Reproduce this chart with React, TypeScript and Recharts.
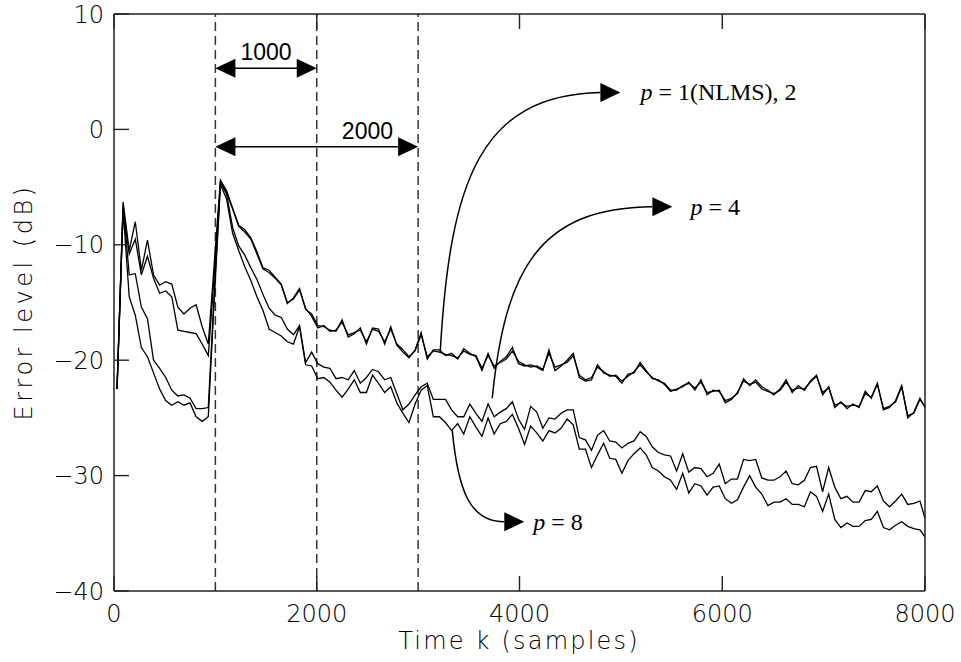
import React from 'react';
import { LineChart, Line, XAxis, YAxis, ReferenceLine } from 'recharts';

const W = 961;
const H = 662;

// sample positions (one point every 60 samples, last at 8000)
const timeK = Array.from({ length: 134 }, (_, i) => Math.min(30 + 60 * i, 8000));

// error level in dB
const errP1 = [
  -22.5, -6.3, -10.5, -8.0, -12.2, -9.6, -12.6, -13.5, -13.2, -13.4,
  -15.4, -16.0, -15.5, -15.2, -17.1, -18.6, -11.5, -4.4, -5.3, -6.8,
  -8.3, -8.7, -9.4, -10.6, -12.0, -12.2, -12.8, -13.4, -15.1, -14.6,
  -13.8, -15.6, -16.0, -17.0, -17.1, -17.4, -17.5, -16.5, -18.0, -17.7,
  -17.2, -18.6, -17.2, -17.3, -18.6, -17.1, -18.7, -19.3, -19.8, -19.1,
  -17.6, -19.9, -19.1, -19.1, -19.6, -19.4, -19.9, -19.0, -19.4, -19.7,
  -20.9, -19.4, -20.7, -20.1, -19.7, -18.9, -20.3, -20.5, -20.4, -20.6,
  -20.9, -19.1, -20.9, -20.5, -20.0, -19.4, -21.5, -21.8, -21.7, -20.4,
  -21.1, -21.3, -21.4, -22.0, -21.2, -21.1, -20.2, -20.9, -21.6, -21.7,
  -22.1, -22.7, -22.5, -22.3, -21.9, -22.6, -21.7, -23.0, -22.6, -22.7,
  -23.5, -23.3, -22.9, -21.6, -22.2, -21.7, -22.3, -22.6, -23.0, -22.5,
  -21.7, -22.8, -22.2, -22.6, -21.8, -21.3, -23.0, -22.3, -24.1, -23.6,
  -24.2, -23.8, -24.1, -22.7, -23.3, -22.0, -24.3, -24.1, -23.5, -22.2,
  -25.0, -24.5, -23.3, -24.1,
];

const errP2 = [
  -22.5, -6.8, -10.8, -9.5, -12.6, -11.0, -12.9, -14.2, -14.0, -14.5,
  -17.4, -17.5, -17.6, -17.7, -18.6, -19.6, -12.5, -4.6, -5.5, -6.9,
  -8.4, -8.9, -9.5, -10.8, -12.1, -12.4, -12.9, -13.5, -15.0, -14.7,
  -13.9, -15.5, -16.2, -17.2, -17.0, -17.5, -17.4, -16.7, -17.8, -17.6,
  -17.4, -18.4, -17.3, -17.5, -18.4, -17.3, -18.6, -19.1, -19.7, -19.2,
  -17.8, -19.7, -19.2, -19.3, -19.5, -19.6, -19.8, -19.2, -19.5, -19.6,
  -20.7, -19.6, -20.5, -20.2, -19.9, -19.2, -20.1, -20.4, -20.6, -20.5,
  -20.8, -19.4, -20.6, -20.4, -20.2, -19.6, -21.3, -21.7, -21.5, -20.6,
  -21.0, -21.4, -21.3, -21.8, -21.4, -21.0, -20.4, -21.0, -21.5, -21.8,
  -22.0, -22.6, -22.6, -22.2, -22.0, -22.4, -21.9, -22.8, -22.7, -22.6,
  -23.7, -23.4, -22.8, -21.8, -22.1, -21.9, -22.5, -22.7, -22.9, -22.6,
  -21.9, -22.6, -22.4, -22.5, -21.9, -21.4, -22.8, -22.4, -23.9, -23.7,
  -24.0, -23.9, -24.0, -22.9, -23.2, -22.1, -24.2, -24.0, -23.6, -22.3,
  -24.8, -24.6, -23.4, -24.0,
];

const errP4 = [
  -22.5, -6.5, -12.6, -12.5, -15.4, -16.4, -20.0, -20.7, -21.5, -22.6,
  -23.1, -23.0, -23.3, -24.2, -24.2, -24.1, -14.0, -4.6, -5.6, -8.5,
  -10.1, -10.9, -12.0, -13.0, -14.3, -15.5, -16.1, -16.3, -17.3, -17.8,
  -17.0, -20.2, -19.3, -20.3, -20.6, -20.7, -21.6, -21.5, -21.7, -20.9,
  -22.0, -21.5, -20.8, -21.0, -21.7, -21.5, -22.9, -24.3, -23.8, -23.0,
  -22.3, -22.0, -23.4, -23.4, -23.4, -24.3, -24.9, -24.9, -23.8, -24.6,
  -25.3, -23.8, -24.9, -24.5, -24.2, -23.6, -25.1, -26.0, -24.0, -24.5,
  -25.9, -25.0, -25.1, -24.6, -24.3, -24.3, -26.7, -26.9, -27.8, -26.5,
  -26.1, -27.0, -27.1, -27.6, -27.2, -27.0, -26.2, -26.6, -27.5, -28.0,
  -28.2, -28.3, -29.6, -28.1, -29.7, -29.3, -29.4, -30.1, -29.8, -29.0,
  -30.7, -30.3, -30.3, -28.6, -28.7, -28.6, -30.2, -30.4, -30.4, -30.1,
  -29.6, -30.7, -30.8, -30.4, -29.3, -29.2, -31.4, -29.3, -31.0, -32.0,
  -31.8, -32.3, -32.3, -31.3, -31.4, -30.9, -32.2, -32.7, -32.2, -31.6,
  -32.5, -32.4, -32.2, -33.7,
];

const errP8 = [
  -22.5, -7.0, -14.5, -16.1, -18.9, -19.7, -21.1, -22.5, -23.5, -23.9,
  -23.6, -23.9, -23.7, -24.9, -25.3, -24.9, -14.5, -4.8, -6.0, -9.0,
  -10.5, -11.9, -13.1, -14.5, -15.7, -17.3, -17.6, -17.9, -18.4, -18.6,
  -17.1, -20.4, -20.5, -21.6, -21.5, -21.9, -22.6, -23.2, -22.5, -21.7,
  -22.8, -22.8, -21.3, -22.0, -22.8, -22.3, -23.7, -24.6, -25.4, -23.8,
  -22.6, -22.2, -24.9, -24.9, -25.4, -26.1, -25.5, -26.4, -24.9, -25.8,
  -26.6, -25.0, -26.4, -25.5, -25.3, -24.7, -25.9, -27.3, -25.7, -26.3,
  -27.0, -26.1, -26.3, -25.9, -25.1, -25.6, -27.7, -27.7, -29.3, -28.2,
  -27.2, -28.5, -28.6, -29.8, -28.7, -28.1, -27.6, -28.2, -29.3, -29.6,
  -30.1, -30.4, -31.2, -29.8, -31.5, -30.7, -30.9, -31.7, -31.0, -30.9,
  -32.0, -32.4, -32.1, -31.0, -30.0, -31.0, -31.6, -32.6, -32.3, -32.3,
  -32.0, -32.5, -32.5, -32.7, -31.4, -31.8, -33.1, -31.6, -33.8, -34.5,
  -34.1, -34.4, -34.4, -33.9, -33.8, -33.1, -34.5, -34.7, -34.3, -34.0,
  -34.4, -34.6, -34.7, -35.3,
];

const xTicks = [0, 2000, 4000, 6000, 8000];
const yTicks = [10, 0, -10, -20, -30, -40];
const markerK = [1000, 2000, 3000];

const data = timeK.map((k, i) => ({
  k,
  p1: errP1[i],
  p2: errP2[i],
  p4: errP4[i],
  p8: errP8[i],
}));

const AXIS = '#222';
const TICK = 15;
const tickFont = { fontFamily: 'DejaVu Sans', fontSize: 24, fontWeight: 200, fill: '#000' };
const fmt = (v: number) => (v < 0 ? `\u2212${Math.abs(v)}` : `${v}`);

const LeftTick = ({ x, y, payload }: any) => (
  <g>
    <line x1={x} y1={y} x2={x + TICK} y2={y} stroke={AXIS} strokeWidth={1.4} />
    <text x={x - 10} y={y} dy="0.36em" textAnchor="end" {...tickFont}>
      {fmt(payload.value)}
    </text>
  </g>
);
const RightTick = ({ x, y }: any) => (
  <line x1={x} y1={y} x2={x - TICK} y2={y} stroke={AXIS} strokeWidth={1.4} />
);
const BottomTick = ({ x, y, payload }: any) => (
  <g>
    <line x1={x} y1={y} x2={x} y2={y - TICK} stroke={AXIS} strokeWidth={1.4} />
    <text x={x} y={y + 31} textAnchor="middle" {...tickFont}>
      {fmt(payload.value)}
    </text>
  </g>
);
const TopTick = ({ x, y }: any) => (
  <line x1={x} y1={y} x2={x} y2={y + TICK} stroke={AXIS} strokeWidth={1.4} />
);

const Head = ({ x, y, dir }: { x: number; y: number; dir: 1 | -1 }) => (
  <polygon points={`${x},${y} ${x - dir * 20},${y - 9.5} ${x - dir * 20},${y + 9.5}`} fill="#000" />
);

// horizontal double-headed arrow with a label above it
const SpanArrow = (props: any) => {
  const { x1, y1, x2, text, at } = props;
  const tx = x1 + (x2 - x1) * at;
  return (
    <g>
      <line x1={x1 + 18} y1={y1} x2={x2 - 18} y2={y1} stroke="#000" strokeWidth={1.5} />
      <Head x={x1} y={y1} dir={-1} />
      <Head x={x2} y={y1} dir={1} />
      <text x={tx} y={y1 - 8} textAnchor="middle" fontFamily="Liberation Sans" fontSize={23} fill="#000">
        {text}
      </text>
    </g>
  );
};

// curved pointer from a curve to its label
const CurveArrow = (props: any) => {
  const { x1, y1, x2, y2, c, label, gap } = props;
  const dx = x2 - x1;
  const dy = y2 - y1;
  const d = `M${x1},${y1} C${x1 + c[0] * dx},${y1 + c[1] * dy} ${x1 + c[2] * dx},${y1 + c[3] * dy} ${x2},${y2}`;
  return (
    <g>
      <path d={d} fill="none" stroke="#000" strokeWidth={1.5} />
      <Head x={x2 + 20} y={y2} dir={1} />
      <text x={x2 + 20 + gap} y={y2 + 8} fontFamily="Liberation Serif" fontSize={24} fill="#000">
        <tspan fontStyle="italic">p</tspan>
        {` = ${label}`}
      </text>
    </g>
  );
};

const ids = { xAxisId: 'bottom', yAxisId: 'left' };

export default function App() {
  return (
    <div style={{ position: 'absolute', left: 0, top: 0, width: W, height: H, background: '#fff' }}>
      <LineChart width={W} height={H} data={data} margin={{ top: 13, right: 35, bottom: 70, left: 113 }}>
        <XAxis
          xAxisId="bottom"
          dataKey="k"
          type="number"
          domain={[0, 8000]}
          ticks={xTicks}
          interval={0}
          height={1}
          tickSize={0}
          tickMargin={0}
          tick={<BottomTick />}
          axisLine={{ stroke: AXIS, strokeWidth: 1.5 }}
        />
        <XAxis
          xAxisId="top"
          orientation="top"
          type="number"
          dataKey="k"
          domain={[0, 8000]}
          ticks={xTicks}
          interval={0}
          height={1}
          tickSize={0}
          tickMargin={0}
          tick={<TopTick />}
          axisLine={{ stroke: AXIS, strokeWidth: 1.5 }}
        />
        <YAxis
          yAxisId="left"
          type="number"
          domain={[-40, 10]}
          ticks={yTicks}
          interval={0}
          width={1}
          tickSize={0}
          tickMargin={0}
          tick={<LeftTick />}
          axisLine={{ stroke: AXIS, strokeWidth: 1.5 }}
        />
        <YAxis
          yAxisId="right"
          orientation="right"
          type="number"
          domain={[-40, 10]}
          ticks={yTicks}
          interval={0}
          width={1}
          tickSize={0}
          tickMargin={0}
          tick={<RightTick />}
          axisLine={{ stroke: AXIS, strokeWidth: 1.5 }}
        />

        {markerK.map((k) => (
          <ReferenceLine key={k} {...ids} x={k} stroke="#333" strokeWidth={1.5} strokeDasharray="9 5" />
        ))}

        <ReferenceLine
          {...ids}
          segment={[{ x: 1000, y: 5.3 }, { x: 2000, y: 5.3 }]}
          shape={(p: any) => <SpanArrow {...p} text="1000" at={0.5} />}
        />
        <ReferenceLine
          {...ids}
          segment={[{ x: 1000, y: -1.5 }, { x: 3000, y: -1.5 }]}
          shape={(p: any) => <SpanArrow {...p} text="2000" at={0.75} />}
        />

        <Line {...ids} dataKey="p1" type="linear" stroke="#000" strokeWidth={1.3} dot={false} isAnimationActive={false} />
        <Line {...ids} dataKey="p2" type="linear" stroke="#000" strokeWidth={1.3} dot={false} isAnimationActive={false} />
        <Line {...ids} dataKey="p4" type="linear" stroke="#000" strokeWidth={1.3} dot={false} isAnimationActive={false} />
        <Line {...ids} dataKey="p8" type="linear" stroke="#000" strokeWidth={1.3} dot={false} isAnimationActive={false} />

        <ReferenceLine
          {...ids}
          segment={[{ x: 3218, y: -19.3 }, { x: 4798, y: 3.2 }]}
          shape={(p: any) => <CurveArrow {...p} c={[0.06, 0.66, 0.25, 0.99]} label="1(NLMS), 2" gap={20} />}
        />
        <ReferenceLine
          {...ids}
          segment={[{ x: 3731, y: -23.3 }, { x: 5311, y: -6.7 }]}
          shape={(p: any) => <CurveArrow {...p} c={[0.08, 0.67, 0.29, 0.995]} label="4" gap={18} />}
        />
        <ReferenceLine
          {...ids}
          segment={[{ x: 3337, y: -26.1 }, { x: 3850, y: -34.0 }]}
          shape={(p: any) => <CurveArrow {...p} c={[0.11, 0.66, 0.34, 1.0]} label="8" gap={9} />}
        />
      </LineChart>

      <svg width={W} height={H} style={{ position: 'absolute', left: 0, top: 0, pointerEvents: 'none' }}>
        <text x={519} y={649} textAnchor="middle" {...tickFont} letterSpacing={2.2}>
          Time k (samples)
        </text>
        <text
          x={0}
          y={0}
          transform="translate(32,302) rotate(-90)"
          textAnchor="middle"
          {...tickFont}
          letterSpacing={3.5}
        >
          Error level (dB)
        </text>
      </svg>
    </div>
  );
}
